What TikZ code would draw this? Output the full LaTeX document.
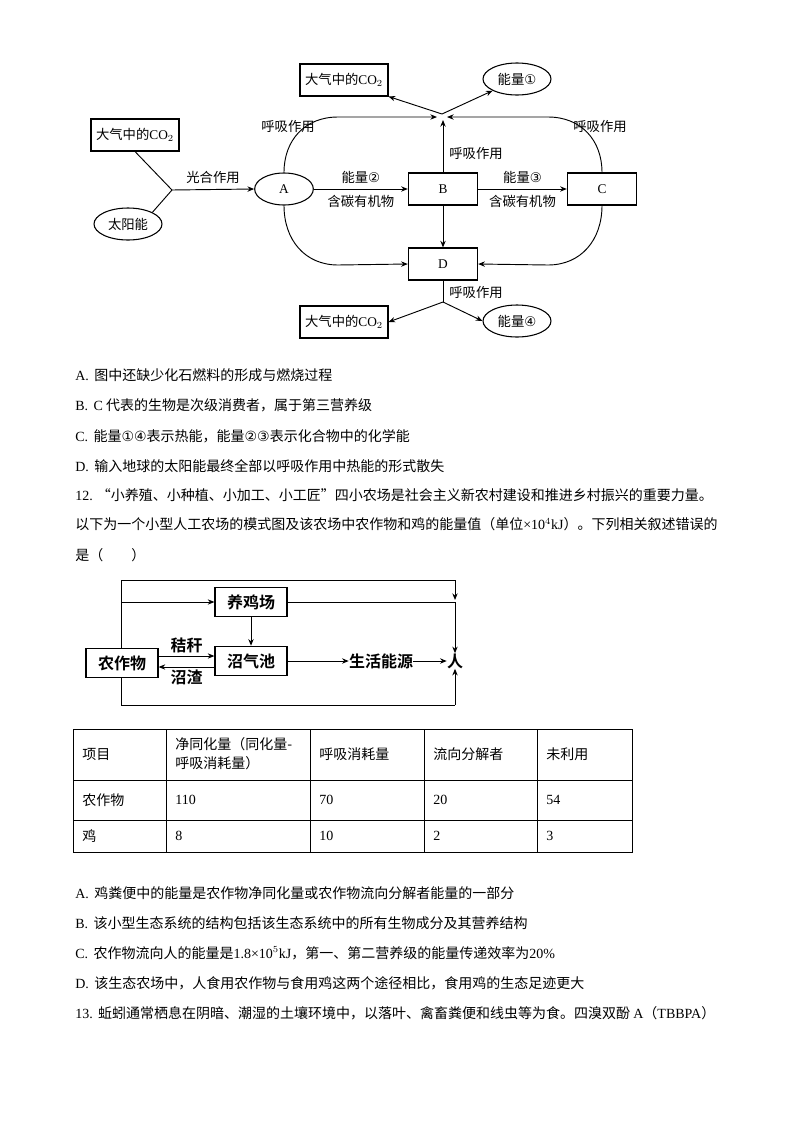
\documentclass[tikz,border=0pt]{standalone}
\usepackage{fontspec}
\setmainfont{Noto Sans CJK SC}
\newfontfamily\lat{Liberation Serif}
\newfontfamily\djv{DejaVu Sans}
\newfontfamily\bcjk{Noto Sans CJK SC}[BoldFont={Noto Sans CJK SC Bold}]
\usetikzlibrary{shapes.geometric,arrows.meta}
\begin{document}
\begin{tikzpicture}[x=0.75pt,y=-0.75pt,
  every node/.style={font=\fontsize{10pt}{12pt}\selectfont, inner sep=0pt},
  box/.style={draw, line width=0.8pt, minimum width=66pt, minimum height=24pt},
  ell/.style={draw, ellipse, line width=0.8pt, minimum width=51pt, minimum height=24pt},
  arr/.style={-{Stealth[length=5pt,width=4pt]}, line width=0.7pt},
  ln/.style={line width=0.7pt},
  txt/.style={anchor=west, font=\fontsize{10.5pt}{12pt}\selectfont},
  bbox/.style={draw, line width=0.9pt, minimum width=54pt, minimum height=22pt, font=\bcjk\bfseries\fontsize{12pt}{14pt}\selectfont},
  blab/.style={font=\bcjk\bfseries\fontsize{12pt}{14pt}\selectfont},
  cell/.style={anchor=west, font=\fontsize{10.5pt}{12pt}\selectfont}]
\useasboundingbox (0,0) rectangle (800,1132);
% ---------- top diagram
\node[box] (co2t) at (344,80) {大气中的{\lat CO$_2$}};
\node[ell] (e1) at (517,79) {能量{\djv ①}};
\coordinate (jt) at (442,114);
\node[box] (co2l) at (135,135) {大气中的{\lat CO$_2$}};
\node[ell] (sun) at (128,224) {太阳能};
\coordinate (jl) at (172,190);
\node[ell, minimum width=44pt] (A) at (284,189) {\lat A};
\node[box, minimum width=52pt] (B) at (443,189) {\lat B};
\node[box, minimum width=52pt] (C) at (602,189) {\lat C};
\node[box, minimum width=52pt] (D) at (443,264) {\lat D};
\coordinate (jb) at (443,302);
\node[box] (co2b) at (344,322) {大气中的{\lat CO$_2$}};
\node[ell] (e4) at (517,321) {能量{\djv ④}};

\draw[ln] (co2l.south) -- (jl);
\draw[ln] (sun.north east) -- (jl);
\draw[arr] (jl) -- (A.west) node[midway, above=4pt] {光合作用};
\draw[arr] (A.east) -- (B.west) node[midway, above=4pt] {能量{\djv ②}} node[midway, below=4pt] {含碳有机物};
\draw[arr] (B.east) -- (C.west) node[midway, above=4pt] {能量{\djv ③}} node[midway, below=4pt] {含碳有机物};
\draw[arr] (A.north) .. controls (284,140) and (305,117) .. (338,117) -- (437,117);
\draw[arr] (C.north) .. controls (602,140) and (581,117) .. (548,117) -- (447,117);
\draw[arr] (B.north) -- (443,120);
\draw[arr] (jt) -- (co2t.south east);
\draw[arr] (jt) -- (e1.south west);
\draw[arr] (A.south) .. controls (284,240) and (305,265) .. (338,265) -- (D.west);
\draw[arr] (C.south) .. controls (602,240) and (581,265) .. (548,265) -- (D.east);
\draw[arr] (B.south) -- (D.north);
\draw[ln] (D.south) -- (jb);
\draw[arr] (jb) -- (co2b.east);
\draw[arr] (jb) -- (e4.west);
\node (r1) at (288,126) {呼吸作用};
\node (r2) at (600,126) {呼吸作用};
\node (r3) at (476,153) {呼吸作用};
\node (r4) at (476,292) {呼吸作用};
% ---------- text
\node[txt] (tA) at (75,375) {{\lat A.}\ \,图中还缺少化石燃料的形成与燃烧过程};
\node[txt] (tB) at (75,405) {{\lat B.}\ \,{\lat C} 代表的生物是次级消费者，属于第三营养级};
\node[txt] (tC) at (75,436) {{\lat C.}\ \,能量{\djv ①④}表示热能，能量{\djv ②③}表示化合物中的化学能};
\node[txt] (tD) at (75,466) {{\lat D.}\ \,输入地球的太阳能最终全部以呼吸作用中热能的形式散失};
\node[txt] (t12) at (75,495) {{\lat 12.} “小养殖、小种植、小加工、小工匠”四小农场是社会主义新农村建设和推进乡村振兴的重要力量。};
\node[txt] (t12b) at (75,524) {以下为一个小型人工农场的模式图及该农场中农作物和鸡的能量值（单位{\lat ×10$^4$kJ}）。下列相关叙述错误的};
\node[txt] (t12c) at (75,555) {是（\hspace{2em}）};
% ---------- farm diagram
\node[bbox] (ji) at (251,602) {养鸡场};
\node[bbox] (nz) at (122,663) {农作物};
\node[bbox] (zq) at (251,661) {沼气池};
\node[blab] (sh) at (381,661) {生活能源};
\node[blab] (ren) at (455,661) {人};
\coordinate (c1) at (121,580);
\coordinate (c2) at (455,580);
\coordinate (c3) at (121,602);
\coordinate (c4) at (455,602);
\coordinate (c5) at (121,705);
\coordinate (c6) at (455,705);
\draw[ln] (nz.north -| c1) -- (c1) -- (c2);
\draw[arr] (c2) -- (455,600);
\draw[arr] (c3) -- (ji.west);
\draw[ln] (ji.east) -- (c4);
\draw[arr] (c4) -- (ren.north);
\draw[arr] (ji.south) -- (zq.north);
\draw[arr] (nz.east |- 0,656) -- (zq.west |- 0,656) node[midway, above=2pt, blab] {秸秆};
\draw[arr] (zq.west |- 0,667) -- (nz.east |- 0,667) node[midway, below=2pt, blab] {沼渣};
\draw[arr] (zq.east) -- (sh.west);
\draw[arr] (sh.east) -- (ren.west);
\draw[ln] (nz.south -| c5) -- (c5) -- (c6);
\draw[arr] (c6) -- (ren.south);
% ---------- table
\draw[line width=0.7pt] (73,729) rectangle (632,852);
\foreach \y in {780,820} \draw[line width=0.7pt] (73,\y) -- (632,\y);
\foreach \x in {166,310,424,537} \draw[line width=0.7pt] (\x,729) -- (\x,852);
\node[cell] (h1) at (82,754) {项目};
\node[cell, align=left] (h2) at (175,754) {净同化量（同化量-\\[2pt]呼吸消耗量）};
\node[cell] (h3) at (319,754) {呼吸消耗量};
\node[cell] (h4) at (433,754) {流向分解者};
\node[cell] (h5) at (546,754) {未利用};
\node[cell] (a1) at (82,800) {农作物};
\node[cell] (a2) at (175,800) {\lat 110};
\node[cell] (a3) at (319,800) {\lat 70};
\node[cell] (a4) at (433,800) {\lat 20};
\node[cell] (a5) at (546,800) {\lat 54};
\node[cell] (b1) at (82,836) {鸡};
\node[cell] (b2) at (175,836) {\lat 8};
\node[cell] (b3) at (319,836) {\lat 10};
\node[cell] (b4) at (433,836) {\lat 2};
\node[cell] (b5) at (546,836) {\lat 3};
% ---------- options
\node[txt] (oA) at (75,893) {{\lat A.}\ \,鸡粪便中的能量是农作物净同化量或农作物流向分解者能量的一部分};
\node[txt] (oB) at (75,923) {{\lat B.}\ \,该小型生态系统的结构包括该生态系统中的所有生物成分及其营养结构};
\node[txt] (oC) at (75,953) {{\lat C.}\ \,农作物流向人的能量是{\lat 1.8×10$^5$kJ}，第一、第二营养级的能量传递效率为{\lat 20\%}};
\node[txt] (oD) at (75,983) {{\lat D.}\ \,该生态农场中，人食用农作物与食用鸡这两个途径相比，食用鸡的生态足迹更大};
\node[txt] (t13) at (75,1013) {{\lat 13.}\ \,蚯蚓通常栖息在阴暗、潮湿的土壤环境中，以落叶、禽畜粪便和线虫等为食。四溴双酚 {\lat A}（{\lat TBBPA}）};
\end{tikzpicture}
\end{document}
